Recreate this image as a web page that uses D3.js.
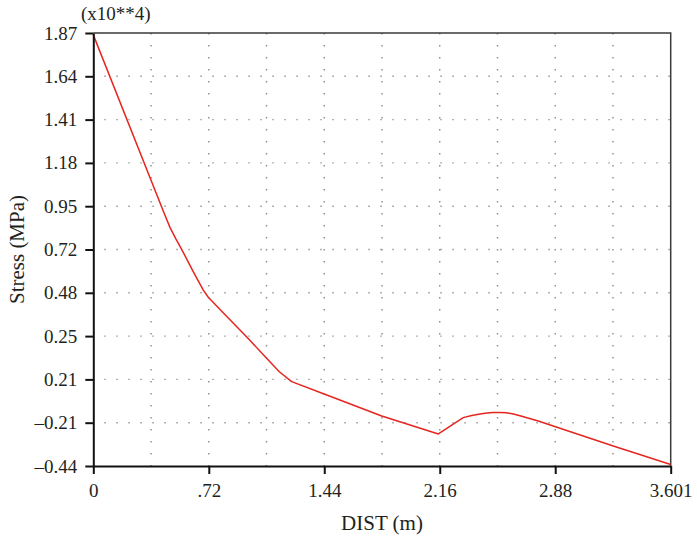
<!DOCTYPE html>
<html>
<head>
<meta charset="utf-8">
<script src="https://cdn.jsdelivr.net/npm/d3@7"></script>
<style>
  body { margin: 0; background: #fff; }
  text { font-family: "Liberation Serif", "DejaVu Serif", serif; fill: #231f20; }
</style>
</head>
<body>
<div id="wrapper"></div>
<script>
// Stress along the path, in units of 10^4 MPa
const distValues = [0, 0.440, 0.478, 0.515, 0.551, 0.624, 0.686, 0.717, 0.810, 0.910, 0.966, 1.081, 1.160, 1.237,
  1.456, 1.799, 2.152, 2.307, 2.360, 2.412, 2.455, 2.495, 2.535, 2.578, 2.620, 2.661, 2.775, 3.243, 3.601];
const stressValues = [1.86, 0.912, 0.833, 0.772, 0.716, 0.596, 0.498, 0.460, 0.378, 0.290, 0.240, 0.135, 0.063, 0.010,
  -0.061, -0.173, -0.269, -0.182, -0.171, -0.163, -0.157, -0.154, -0.154, -0.156, -0.163, -0.172, -0.200, -0.333, -0.432];

// tick labels as printed on the plot (evenly spaced, 10 divisions)
const yTickLabels = ["-0.44", "-0.21", "0.21", "0.25", "0.48", "0.72", "0.95", "1.18", "1.41", "1.64", "1.87"];
const xTickLabels = ["0", ".72", "1.44", "2.16", "2.88", "3.601"];

const yMin = -0.44, yMax = 1.87, xMax = 3.601;

function drawChart() {
  const data = distValues.map((d, i) => ({ dist: d, stress: stressValues[i] }));

  const dimensions = {
    width: 697,
    height: 545,
    margin: { top: 33, right: 26.3, bottom: 79, left: 93.3 },
  };
  dimensions.boundedWidth = dimensions.width - dimensions.margin.left - dimensions.margin.right;
  dimensions.boundedHeight = dimensions.height - dimensions.margin.top - dimensions.margin.bottom;

  const wrapper = d3.select("#wrapper")
    .append("svg")
      .attr("width", dimensions.width)
      .attr("height", dimensions.height);

  const bounds = wrapper.append("g")
      .attr("transform", `translate(${dimensions.margin.left},${dimensions.margin.top})`);

  const xScale = d3.scaleLinear()
    .domain([0, xMax])
    .range([0, dimensions.boundedWidth]);

  const yScale = d3.scaleLinear()
    .domain([yMin, yMax])
    .range([dimensions.boundedHeight, 0]);

  const yTicks = d3.range(yTickLabels.length).map(i => yMin + i * (yMax - yMin) / 10);
  const xTicks = d3.range(xTickLabels.length).map(i => i * xMax / 5);
  const xGrid = d3.range(1, 10).map(i => i * xMax / 10);

  // grid (dotted)
  bounds.append("g")
    .selectAll("line")
    .data(yTicks.slice(1, -1))
    .join("line")
      .attr("x1", 0)
      .attr("x2", dimensions.boundedWidth)
      .attr("y1", d => yScale(d))
      .attr("y2", d => yScale(d))
      .attr("stroke", "#9a9a9a")
      .attr("stroke-width", 1.4)
      .attr("stroke-dasharray", "1.5,10.5")
      .attr("stroke-dashoffset", -11);

  bounds.append("g")
    .selectAll("line")
    .data(xGrid)
    .join("line")
      .attr("x1", d => xScale(d))
      .attr("x2", d => xScale(d))
      .attr("y1", 0)
      .attr("y2", dimensions.boundedHeight)
      .attr("stroke", "#8a8a8a")
      .attr("stroke-width", 1.4)
      .attr("stroke-dasharray", "1.5,10.5");

  // top / right frame
  bounds.append("path")
      .attr("d", `M0,0H${dimensions.boundedWidth}V${dimensions.boundedHeight}`)
      .attr("fill", "none")
      .attr("stroke", "#3a3a3a")
      .attr("stroke-width", 1.5);

  // data line
  const lineGenerator = d3.line()
    .x(d => xScale(d.dist))
    .y(d => yScale(d.stress));

  bounds.append("path")
      .attr("d", lineGenerator(data))
      .attr("fill", "none")
      .attr("stroke", "#e5261f")
      .attr("stroke-width", 1.5)
      .attr("stroke-linejoin", "round");

  // axes
  const yAxisGenerator = d3.axisLeft(yScale)
    .tickValues(yTicks)
    .tickFormat((d, i) => yTickLabels[i].replace("-", "\u2013"))
    .tickSizeInner(8)
    .tickSizeOuter(0)
    .tickPadding(8);

  const yAxis = bounds.append("g").call(yAxisGenerator);

  const xAxisGenerator = d3.axisBottom(xScale)
    .tickValues(xTicks)
    .tickFormat((d, i) => xTickLabels[i])
    .tickSizeInner(8)
    .tickSizeOuter(0)
    .tickPadding(10);

  const xAxis = bounds.append("g")
      .attr("transform", `translate(0,${dimensions.boundedHeight})`)
    .call(xAxisGenerator);

  [xAxis, yAxis].forEach(axis => {
    axis.select(".domain").attr("stroke", "#111").attr("stroke-width", 2);
    axis.selectAll(".tick line").attr("stroke", "#111").attr("stroke-width", 2);
    axis.selectAll(".tick text")
      .attr("font-size", 19)
      .attr("font-family", "Liberation Serif, DejaVu Serif, serif")
      .attr("fill", "#231f20");
  });

  // labels
  wrapper.append("text")
      .attr("x", dimensions.margin.left + dimensions.boundedWidth / 2)
      .attr("y", 530)
      .attr("text-anchor", "middle")
      .attr("font-size", 21)
      .text("DIST (m)");

  wrapper.append("text")
      .attr("transform", `translate(24,${dimensions.margin.top + dimensions.boundedHeight / 2}) rotate(-90)`)
      .attr("text-anchor", "middle")
      .attr("font-size", 21)
      .text("Stress (MPa)");

  wrapper.append("text")
      .attr("x", 81)
      .attr("y", 20)
      .attr("font-size", 19)
      .text("(x10**4)");
}
drawChart();
</script>
</body>
</html>
